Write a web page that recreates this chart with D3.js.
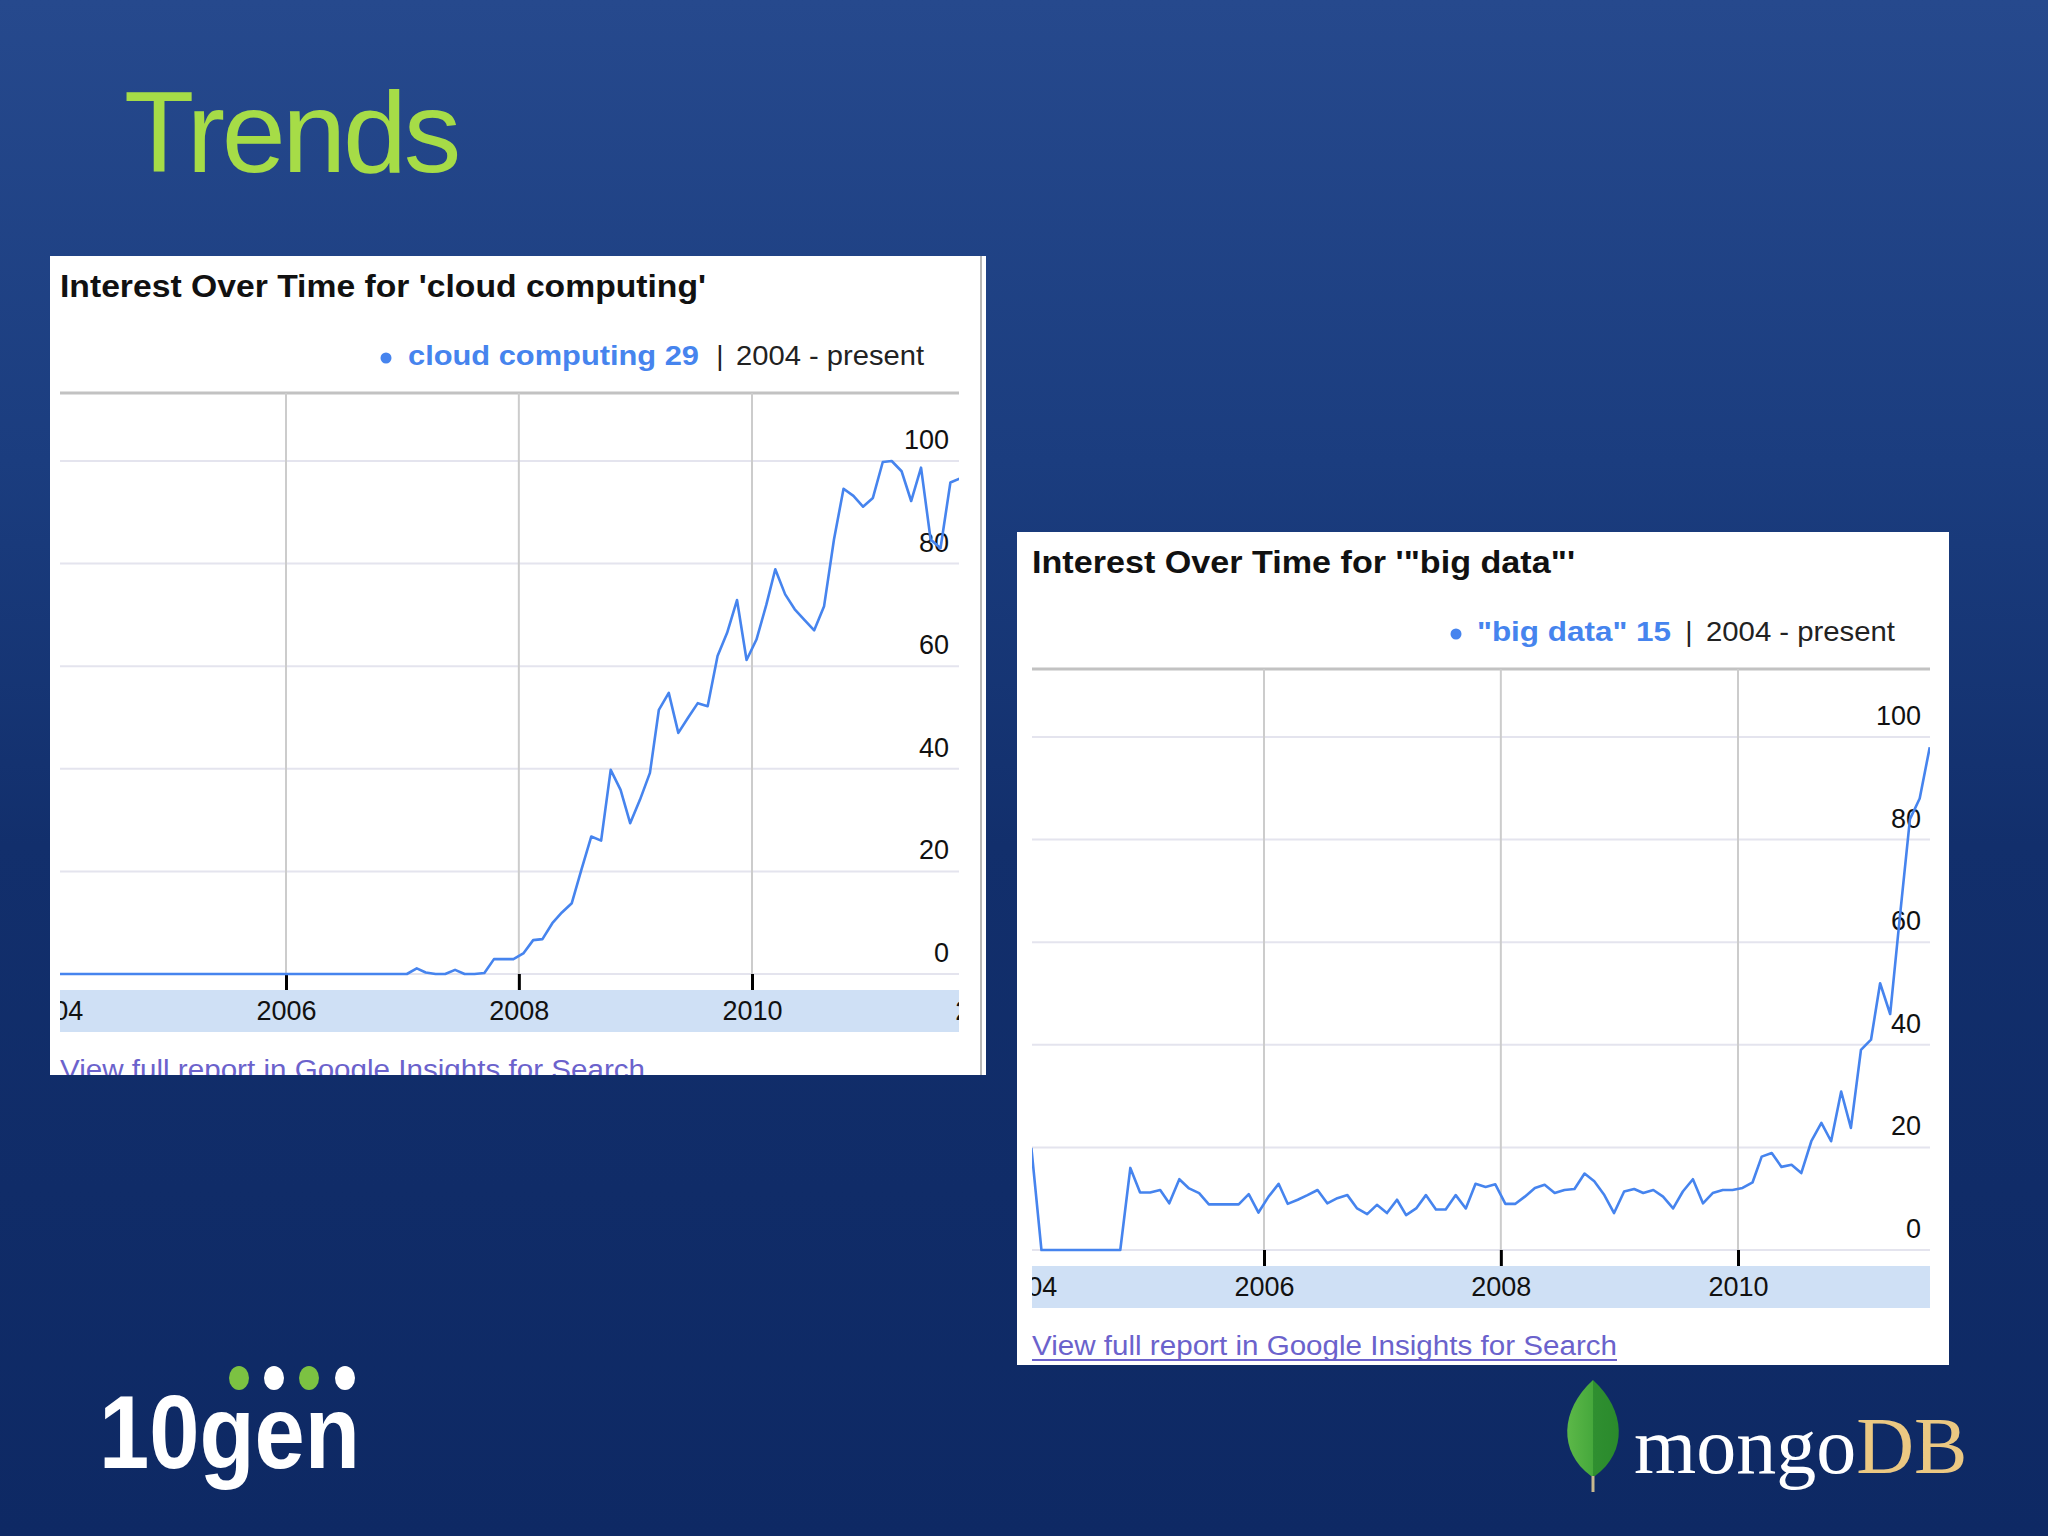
<!DOCTYPE html>
<html><head><meta charset="utf-8">
<script src="https://cdn.jsdelivr.net/npm/d3@7"></script>
<style>html,body{margin:0;padding:0;background:#0f2a66;} svg{display:block}</style>
</head><body>
<svg id="slide" width="2048" height="1536"></svg>
<script>
// ---------- data ----------
const slideTitle = "Trends";
const yTicks = [0, 20, 40, 60, 80, 100];
const yearTicks = [2004, 2006, 2008, 2010, 2012];
const gridYears = [2006, 2008, 2010];
const rangeLabel = "2004 - present";
const linkText = "View full report in Google Insights for Search";

const cloudTitle = "Interest Over Time for 'cloud computing'";
const cloudTerm = "cloud computing 29";
// monthly, Jan 2004 .. Oct 2011
const cloudValues = [
  0,0,0,0,0,0,0,0,0,0,0,0,
  0,0,0,0,0,0,0,0,0,0,0,0,
  0,0,0,0,0,0,0,0,0,0,0,0,
  0,1.1,0.3,0,0,0.8,0,0,0.2,2.9,2.9,2.9,
  4,6.6,6.8,9.9,12,13.8,20.3,26.8,26,39.8,35.9,29.4,
  34,39.2,51.5,54.8,47,50,52.8,52.2,62,66.5,72.9,61.2,
  65.2,72,78.9,74,71.1,69,67,71.7,84.7,94.6,93.2,91.1,
  92.8,99.8,100,98,92.2,98.7,84.7,83,95.8,96.6
];

const bigTitle = "Interest Over Time for '\"big data\"'";
const bigTerm = "\"big data\" 15";
// monthly, Jan 2004 .. Aug 2011
const bigDataValues = [
  19.9,0,0,0,0,0,0,0,0,0,16,11.2,
  11.2,11.7,9.1,13.8,12,11.1,8.9,8.9,8.9,8.9,10.9,7.3,
  10.4,12.9,9,9.8,10.7,11.7,9.1,10.1,10.7,8.1,7,8.8,
  7.2,9.8,6.8,8.1,10.7,7.9,7.9,10.7,8.1,12.9,12.3,12.8,
  9,9,10.4,12.1,12.7,11.1,11.7,11.9,14.9,13.4,10.7,7.2,
  11.4,11.9,11.1,11.7,10.4,8.1,11.4,13.8,9.1,11.1,11.7,11.7,
  12.1,13.2,18.2,18.9,16.2,16.6,15,21.2,24.8,21.2,30.9,23.8,
  39,41,52,46,65,84,88,98
];

// ---------- drawing ----------
const svg = d3.select('#slide');
const defs = svg.append('defs');
const bg = defs.append('linearGradient').attr('id','bg').attr('x1',0).attr('y1',0).attr('x2',0).attr('y2',1);
[[0,'#26498d'],[0.3,'#1b3d7f'],[0.55,'#122f6c'],[1,'#0e2964']].forEach(([o,c]) =>
  bg.append('stop').attr('offset',o).attr('stop-color',c));
svg.append('rect').attr('width',2048).attr('height',1536).attr('fill','url(#bg)');

svg.append('text').text(slideTitle)
  .attr('x',124).attr('y',172)
  .attr('font-family','Liberation Sans, Arial, sans-serif')
  .attr('font-size',115).attr('letter-spacing',-3.3)
  .attr('fill','#a6dc47');

const BLUE = '#4684ee';
const FONT = 'Liberation Sans, Arial, sans-serif';

function drawChart(cfg, values, title, term) {
  const g = svg.append('g');
  const bx = cfg.boxX, by = cfg.boxY;
  const clipBox = 'clipbox' + cfg.id;
  defs.append('clipPath').attr('id', clipBox).append('rect')
    .attr('x', bx).attr('y', by).attr('width', cfg.boxW).attr('height', cfg.boxH);
  g.append('rect').attr('x',bx).attr('y',by).attr('width',cfg.boxW).attr('height',cfg.boxH)
    .attr('fill','#ffffff');
  if (cfg.border) {
    g.append('line').attr('x1',cfg.border).attr('x2',cfg.border).attr('y1',by).attr('y2',by+cfg.boxH)
      .attr('stroke','#b8b8b8').attr('stroke-width',2);
  }
  const inner = g.append('g').attr('clip-path','url(#'+clipBox+')');

  // title
  inner.append('text').text(title)
    .attr('x',cfg.x0).attr('y',by+41)
    .attr('font-family',FONT).attr('font-weight','bold').attr('font-size',32)
    .attr('textLength',cfg.titleW).attr('lengthAdjust','spacingAndGlyphs')
    .attr('fill','#111');

  // legend
  const ly = by + 109;
  inner.append('circle').attr('cx',cfg.leg.dot).attr('cy',ly-7).attr('r',5.5).attr('fill',BLUE);
  inner.append('text').text(term).attr('x',cfg.leg.t0).attr('y',ly)
    .attr('font-family',FONT).attr('font-weight','bold').attr('font-size',28)
    .attr('textLength',cfg.leg.t1-cfg.leg.t0).attr('lengthAdjust','spacingAndGlyphs')
    .attr('fill',BLUE);
  inner.append('text').text('|').attr('x',cfg.leg.bar).attr('y',ly)
    .attr('font-family',FONT).attr('font-size',28).attr('text-anchor','middle').attr('fill','#222');
  inner.append('text').text(rangeLabel).attr('x',cfg.leg.r0).attr('y',ly)
    .attr('font-family',FONT).attr('font-size',28)
    .attr('textLength',cfg.leg.r1-cfg.leg.r0).attr('lengthAdjust','spacingAndGlyphs')
    .attr('fill','#222');

  // scales
  const y = d3.scaleLinear().domain([0,100]).range([by+718, by+205]);
  const x = d3.scaleTime().domain([new Date(2006,0,1), new Date(2010,0,1)]).range([cfg.x2006, cfg.x2010]);
  const topY = by + 137;

  // top line
  inner.append('line').attr('x1',cfg.x0).attr('x2',cfg.x1).attr('y1',topY).attr('y2',topY)
    .attr('stroke','#c2c2c2').attr('stroke-width',3);

  // horizontal gridlines
  inner.selectAll('.hg').data(yTicks).join('line')
    .attr('x1',cfg.x0).attr('x2',cfg.x1)
    .attr('y1',d=>y(d)).attr('y2',d=>y(d))
    .attr('stroke','#e4e4ee').attr('stroke-width',2);
  // vertical gridlines
  inner.selectAll('.vg').data(gridYears).join('line')
    .attr('x1',d=>x(new Date(d,0,1))).attr('x2',d=>x(new Date(d,0,1)))
    .attr('y1',topY).attr('y2',y(0))
    .attr('stroke','#cccccc').attr('stroke-width',2);

  // band
  const bandTop = by + 734, bandBot = by + 776;
  inner.append('rect').attr('x',cfg.x0).attr('y',bandTop).attr('width',cfg.x1-cfg.x0).attr('height',bandBot-bandTop)
    .attr('fill','#cfe0f5');

  // x axis
  const clipBand = 'clipband' + cfg.id;
  defs.append('clipPath').attr('id', clipBand).append('rect')
    .attr('x', cfg.x0).attr('y', y(0)-2).attr('width', cfg.x1-cfg.x0).attr('height', bandBot-y(0)+4);
  const xAxis = d3.axisBottom(x)
    .tickValues(yearTicks.map(v => new Date(v,0,1)))
    .tickFormat(d3.timeFormat('%Y'))
    .tickSize(bandTop - y(0)).tickPadding(11);
  const ax = inner.append('g').attr('clip-path','url(#'+clipBand+')')
    .append('g').attr('transform','translate(0,'+y(0)+')').call(xAxis);
  ax.select('.domain').remove();
  ax.selectAll('.tick line').attr('stroke','#000').attr('stroke-width',3);
  ax.selectAll('.tick text').attr('font-family',FONT).attr('font-size',27).attr('fill','#111');

  // y labels
  inner.selectAll('.yl').data(yTicks).join('text')
    .text(d=>d).attr('x',cfg.yLabX).attr('y',d=>y(d)-12)
    .attr('text-anchor','end')
    .attr('font-family',FONT).attr('font-size',27).attr('fill','#111');

  // line
  const clipPlot = 'clipplot' + cfg.id;
  defs.append('clipPath').attr('id', clipPlot).append('rect')
    .attr('x', cfg.x0).attr('y', topY).attr('width', cfg.x1-cfg.x0).attr('height', y(0)-topY+3);
  const pts = values.map((v,i) => ({date: new Date(2004, i, 15), v}));
  const line = d3.line().x(d=>x(d.date)).y(d=>y(d.v));
  inner.append('path').datum(pts)
    .attr('clip-path','url(#'+clipPlot+')')
    .attr('d', line).attr('fill','none')
    .attr('stroke',BLUE).attr('stroke-width',2.6).attr('stroke-linejoin','round');

  // link
  const linkY = by + 823;
  inner.append('text').text(linkText).attr('x',cfg.x0).attr('y',linkY)
    .attr('font-family',FONT).attr('font-size',27)
    .attr('textLength',cfg.linkW).attr('lengthAdjust','spacingAndGlyphs')
    .attr('fill','#6b62cc');
  inner.append('line').attr('x1',cfg.x0).attr('x2',cfg.x0+cfg.linkW)
    .attr('y1',linkY+5).attr('y2',linkY+5).attr('stroke','#6b62cc').attr('stroke-width',2);
}

drawChart({id:'a', boxX:50, boxY:256, boxW:936, boxH:819, border:981,
  x0:60, x1:959, x2006:286, x2010:752, yLabX:949, titleW:646,
  leg:{dot:386, t0:408, t1:699, bar:720, r0:736, r1:924}, linkW:585},
  cloudValues, cloudTitle, cloudTerm);

drawChart({id:'b', boxX:1017, boxY:532, boxW:932, boxH:833, border:null,
  x0:1032, x1:1930, x2006:1264, x2010:1738, yLabX:1921, titleW:543,
  leg:{dot:1456, t0:1477, t1:1671, bar:1689, r0:1706, r1:1895}, linkW:585},
  bigDataValues, bigTitle, bigTerm);

// ---------- logos ----------
const logo = svg.append('g');
[[239,'#7cc242'],[274,'#ffffff'],[309,'#7cc242'],[345,'#ffffff']].forEach(([cx,c]) =>
  logo.append('ellipse').attr('cx',cx).attr('cy',1378).attr('rx',10).attr('ry',12).attr('fill',c));
logo.append('text').text('10gen').attr('x',99).attr('y',1468)
  .attr('font-family',FONT).attr('font-weight','bold').attr('font-size',104)
  .attr('textLength',261).attr('lengthAdjust','spacingAndGlyphs').attr('fill','#ffffff');

const leafG = defs.append('linearGradient').attr('id','leaf').attr('x1',0).attr('x2',1).attr('y1',0).attr('y2',0);
[[0,'#5cb848'],[0.5,'#46a83c'],[0.51,'#2f8f30'],[1,'#2a8a2c']].forEach(([o,c]) =>
  leafG.append('stop').attr('offset',o).attr('stop-color',c));
logo.append('line').attr('x1',1593).attr('x2',1593).attr('y1',1465).attr('y2',1492)
  .attr('stroke','#c9b98e').attr('stroke-width',3);
logo.append('path').attr('d','M1593,1380 C1626,1410 1628,1452 1595,1476 L1591,1476 C1558,1452 1560,1410 1593,1380 Z')
  .attr('fill','url(#leaf)');
const mt = logo.append('text').attr('x',1634).attr('y',1473)
  .attr('font-family','Liberation Serif, Times New Roman, serif').attr('font-size',80);
mt.append('tspan').text('mongo').attr('fill','#ffffff');
mt.append('tspan').text('DB').attr('fill','#ebc882');
</script>
</body></html>
